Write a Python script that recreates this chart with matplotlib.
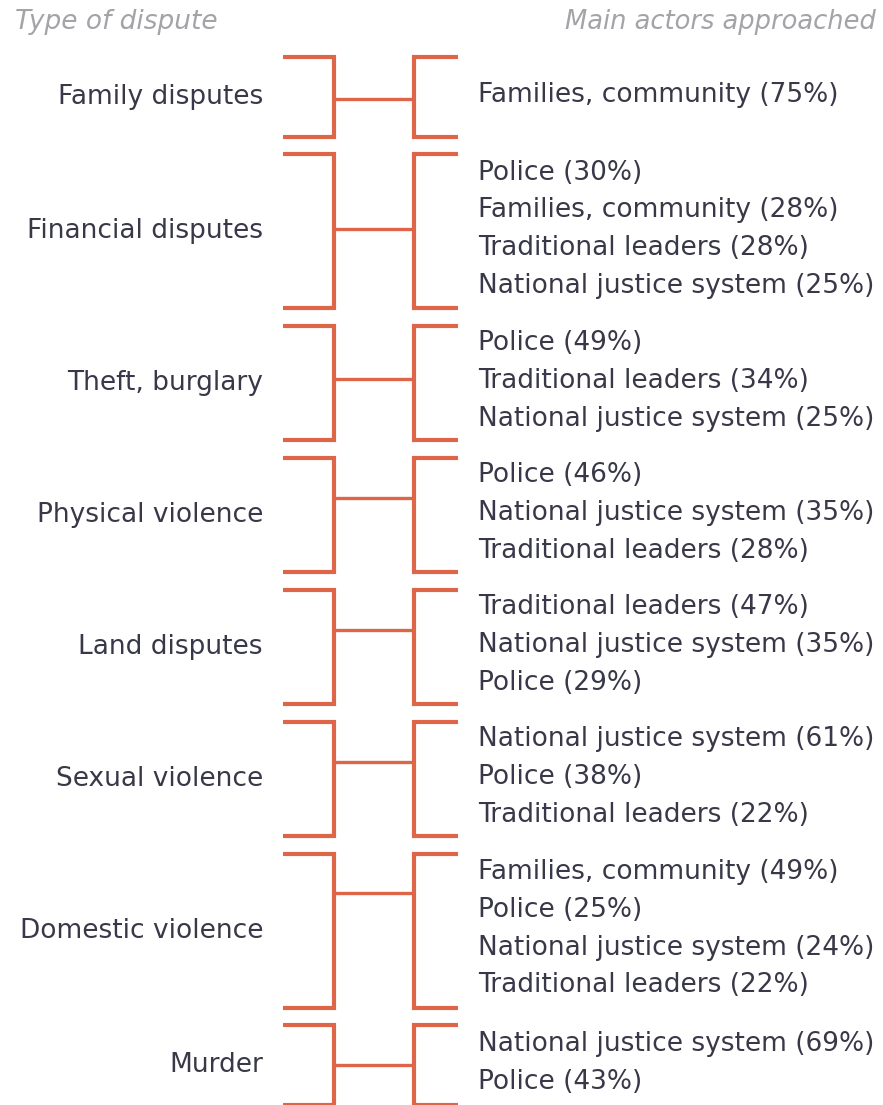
import matplotlib
matplotlib.use("Agg")
import matplotlib.pyplot as plt

# dispute types and the actors people turned to (share of respondents, %)
disputes = ["Family disputes", "Financial disputes", "Theft, burglary", "Physical violence",
            "Land disputes", "Sexual violence", "Domestic violence", "Murder"]
actors = [
    ["Families, community"],
    ["Police", "Families, community", "Traditional leaders", "National justice system"],
    ["Police", "Traditional leaders", "National justice system"],
    ["Police", "National justice system", "Traditional leaders"],
    ["Traditional leaders", "National justice system", "Police"],
    ["National justice system", "Police", "Traditional leaders"],
    ["Families, community", "Police", "National justice system", "Traditional leaders"],
    ["National justice system", "Police"],
]
shares = [[75], [30, 28, 28, 25], [49, 34, 25], [46, 35, 28],
          [47, 35, 29], [61, 38, 22], [49, 25, 24, 22], [69, 43]]

# vertical offset of the middle connector, in text rows
conn_shift = [0.05, -0.05, -0.1, -0.45, -0.45, -0.45, -1.0, 0.0]

ORANGE = "#DF6549"
TEXT = "#383848"
GREY = "#a3a3a8"
FONT = "DejaVu Sans"
FS = 19

ROW = 37.7        # text line spacing
BROW = 39.5       # bracket growth per item
GAP = 17.5
TOP = 57

fig = plt.figure(figsize=(8.83, 11.05), dpi=100)
ax = fig.add_axes([0, 0, 1, 1])
ax.set_xlim(0, 883)
ax.set_ylim(1105, 0)
ax.axis("off")

x_arm_l, x_vl, x_vr, x_arm_r = 283, 334, 414, 458
lw_b, lw_c = 3.0, 2.4

ax.text(15, 29, "Type of dispute", fontsize=FS, style="italic", color=GREY,
        family=FONT, ha="left", va="baseline")
ax.text(876, 29, "Main actors approached", fontsize=FS - 0.5, style="italic", color=GREY,
        family=FONT, ha="right", va="baseline")

y = TOP
for name, acts, vals, shift in zip(disputes, actors, shares, conn_shift):
    n = len(acts)
    h = BROW * max(n, 2.12) - 4
    top, bot = y, y + h
    mid = (top + bot) / 2

    # left bracket  ]
    ax.plot([x_arm_l, x_vl, x_vl, x_arm_l], [top, top, bot, bot], color=ORANGE,
            lw=lw_b, solid_joinstyle="miter", solid_capstyle="butt")
    # right bracket [
    ax.plot([x_arm_r, x_vr, x_vr, x_arm_r], [top, top, bot, bot], color=ORANGE,
            lw=lw_b, solid_joinstyle="miter", solid_capstyle="butt")
    # connector
    yc = mid + shift * ROW
    ax.plot([x_vl, x_vr], [yc, yc], color=ORANGE, lw=lw_c, solid_capstyle="butt")

    ax.text(263, mid + 7, name, fontsize=FS, color=TEXT, family=FONT,
            ha="right", va="baseline")

    first = mid - 2 - ROW * (n - 1) / 2
    for i, (a, v) in enumerate(zip(acts, vals)):
        ax.text(478, first + i * ROW + 7, f"{a} ({v}%)", fontsize=FS, color=TEXT,
                family=FONT, ha="left", va="baseline")

    y = bot + GAP

fig.savefig("out.png", dpi=100, facecolor="white")
